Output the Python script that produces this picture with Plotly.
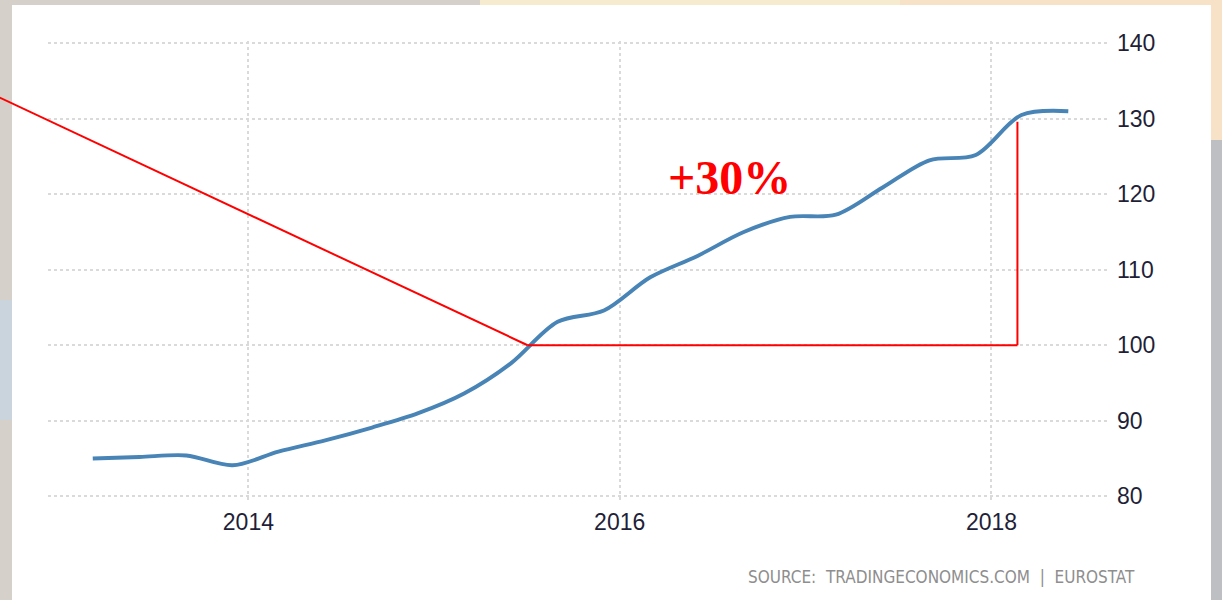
import plotly.graph_objects as go
import pandas as pd

# ---- data (quarterly index) ----
dates = ["2013-03-01", "2013-06-01", "2013-09-01", "2013-12-01",
         "2014-03-01", "2014-06-01", "2014-09-01", "2014-12-01",
         "2015-03-01", "2015-06-01", "2015-09-01", "2015-12-01",
         "2016-03-01", "2016-06-01", "2016-09-01", "2016-12-01",
         "2017-03-01", "2017-06-01", "2017-09-01", "2017-12-01",
         "2018-03-01", "2018-06-01"]
values = [85.0, 85.2, 85.4, 84.1,
          85.9, 87.4, 89.1, 91.0,
          93.6, 97.6, 103.1, 104.6,
          109.0, 111.8, 115.0, 117.0,
          117.3, 120.9, 124.5, 125.2,
          130.5, 131.0]

y_ticks = [80, 90, 100, 110, 120, 130, 140]
x_ticks = ["2014-01-01", "2016-01-01", "2018-01-01"]
x_tick_labels = ["2014", "2016", "2018"]

# annotation geometry (data space)
base_date = "2015-07-04"
base_value = 100
peak_date = "2018-02-21"
peak_value = 129.6
diag_start_date = "2012-08-30"
diag_start_value = 132.8
label_text = "<b>+30%</b>"
label_date = "2016-08-04"
label_value = 122.2
source_text = "SOURCE:  TRADINGECONOMICS.COM  |  EUROSTAT"

x_range = ["2012-12-03", "2018-08-22"]
y_range = [79.5, 140.3]

W, H = 1222, 600
ML, MR, MT, MB = 48, 112, 41, 100
PW, PH = W - ML - MR, H - MT - MB


def px_to_paper(px, py):
    return (px - ML) / PW, (H - MB - py) / PH


def to_dom_x(d):
    t0, t1 = pd.Timestamp(x_range[0]), pd.Timestamp(x_range[1])
    return (pd.Timestamp(d) - t0) / (t1 - t0)


def to_dom_y(v):
    return (v - y_range[0]) / (y_range[1] - y_range[0])


fig = go.Figure()
fig.add_trace(go.Scatter(
    x=dates, y=values, mode="lines",
    line=dict(color="#4884b6", width=3.9, shape="spline", smoothing=0.9),
    hoverinfo="skip", showlegend=False,
))

shapes = []
# blurred photo background approximations
bgs = [
    (0, 0, W, H, "#d6d0ca"),
    (480, 0, W, 5, "#f7ebcf"),
    (900, 0, W, 140, "#f7e2c8"),
    (1211, 140, W, H, "#bdbfc2"),
    (0, 300, 12, 420, "#c9d4dc"),
]
for x0, y0, x1, y1, c in bgs:
    a0, b0 = px_to_paper(x0, y0)
    a1, b1 = px_to_paper(x1, y1)
    shapes.append(dict(type="rect", xref="paper", yref="paper", x0=a0, y0=b1, x1=a1, y1=b0,
                       fillcolor=c, line=dict(width=0), layer="below"))
# white chart panel
a0, b0 = px_to_paper(12, 5)
a1, b1 = px_to_paper(1211, 600)
shapes.append(dict(type="rect", xref="paper", yref="paper", x0=a0, y0=b1, x1=a1, y1=b0,
                   fillcolor="#ffffff", line=dict(width=0), layer="below"))

red = dict(color="#ff0000", width=2)
shapes.append(dict(type="line", xref="x domain", yref="y domain",
                   x0=to_dom_x(diag_start_date), y0=to_dom_y(diag_start_value),
                   x1=to_dom_x(base_date), y1=to_dom_y(base_value), line=red))
shapes.append(dict(type="line", xref="x", yref="y",
                   x0=base_date, y0=base_value, x1=peak_date, y1=base_value, line=red))
shapes.append(dict(type="line", xref="x", yref="y",
                   x0=peak_date, y0=base_value, x1=peak_date, y1=peak_value, line=red))

sx, sy = px_to_paper(1137, 577)
annotations = [
    dict(x=label_date, y=label_value, xref="x", yref="y", text=label_text, showarrow=False,
         font=dict(family="Liberation Serif, Times New Roman, serif", size=48, color="#ff0000"),
         xanchor="center", yanchor="middle"),
    dict(x=sx, y=sy, xref="paper", yref="paper", text=source_text, showarrow=False,
         font=dict(family="DejaVu Sans Condensed, DejaVu Sans, sans-serif", size=17, color="#8e8e8e"),
         xanchor="right", yanchor="middle"),
]

tick_font = dict(family="Liberation Sans, Arial, sans-serif", size=23, color="#1f1f38")

fig.update_layout(
    width=W, height=H,
    margin=dict(l=ML, r=MR, t=MT, b=MB, pad=0),
    paper_bgcolor="#d6d0ca", plot_bgcolor="#ffffff",
    shapes=shapes, annotations=annotations, showlegend=False,
    xaxis=dict(type="date", range=x_range, tickvals=x_ticks, ticktext=x_tick_labels,
               showgrid=True, gridcolor="#dadada", gridwidth=2, griddash="dot",
               zeroline=False, showline=False, ticks="", tickfont=tick_font,
               ticklabelstandoff=6),
    yaxis=dict(range=y_range, tickvals=y_ticks, side="right",
               showgrid=True, gridcolor="#dadada", gridwidth=2, griddash="dot",
               zeroline=False, showline=False, ticks="", tickfont=tick_font,
               ticklabelstandoff=6),
)

fig.write_html("out.html", config={"displayModeBar": False},
               post_script="document.body.style.margin='0';document.body.style.overflow='hidden';")
